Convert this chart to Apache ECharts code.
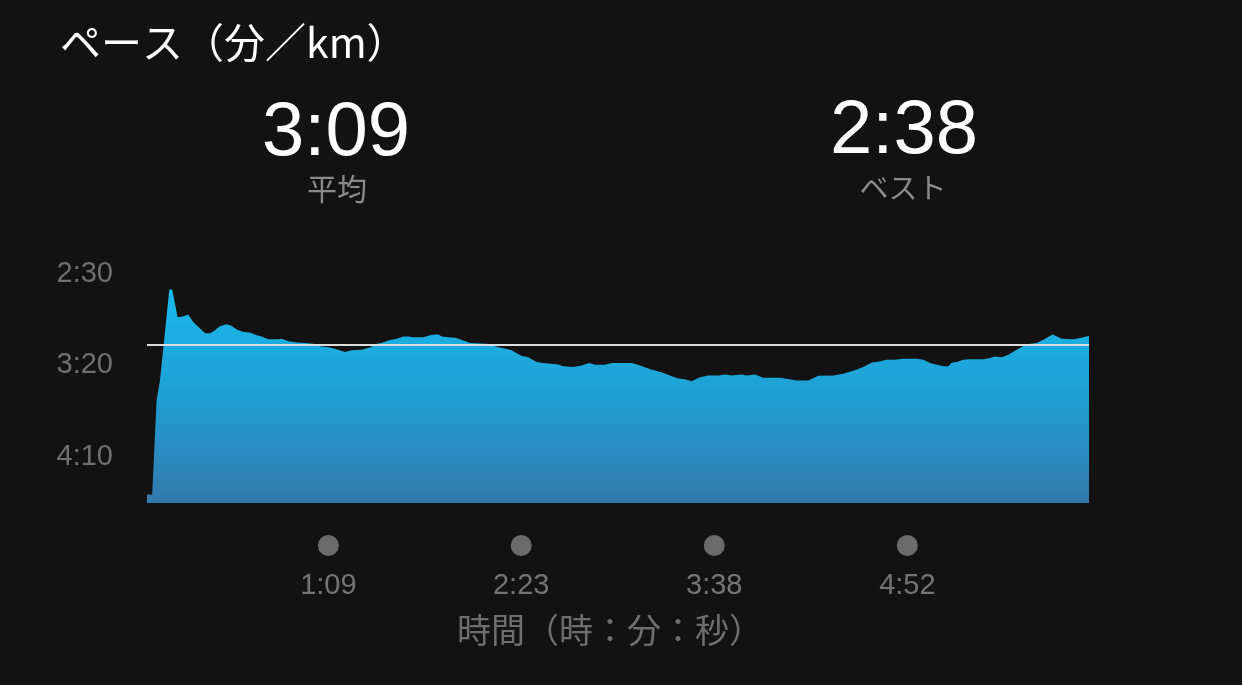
<!DOCTYPE html>
<html>
<head>
<meta charset="utf-8">
<script src="https://cdn.jsdelivr.net/npm/echarts@6/dist/echarts.min.js"></script>
<style>
html,body{margin:0;padding:0;background:#121212;}
#main{width:1242px;height:685px;}
</style>
</head>
<body>
<div id="main"></div>
<script>
// elapsed time (s)
const times = [0,2.0,3.7,5.0,8.6,9.7,11.8,13.8,15.9,17.8,22.4,24.3,25.8,28.1,30.7,32.3,34.6,37.1,40.0,42.3,44.2,46.7,50.6,51.9,54.5,57.7,60.9,64.1,66.7,70.5,73.7,76.3,78.9,82.7,85.9,88.5,90.4,93.0,96.2,98.8,100.7,102.6,106.5,109.1,111.0,112.3,113.6,116.1,118.7,120.6,124.5,130.9,134.1,140.5,144.4,146.9,150.2,152.7,158.5,160.4,164.3,167.5,170.4,172.6,176.5,179.1,186.8,190.0,194.5,198.3,201.5,204.7,207.3,209.9,213.1,216.3,220.2,222.7,225.3,229.2,231.1,234.3,237.5,243.9,246.5,250.4,254.8,258.7,264.5,268.3,272.8,276.0,279.3,281.8,285.0,288.2,291.4,296.6,299.2,301.7,304.3,306.9,308.8,310.1,312.0,314.6,317.1,322.3,324.9,326.8,329.4,331.9,335.1,339.0,342.8,345.4,349.0,352.5,357.0,359.5,363.0];
// pace (seconds per km)
const paces = [270.3,270.3,219.1,208.2,158.6,158.6,173.7,173.3,172.2,176.4,182.4,182.4,181.3,178.6,177.6,178.2,180.4,181.8,182.2,183.6,184.2,185.8,185.8,185.4,186.8,187.5,187.8,188.2,189.6,190.3,191.4,192.7,191.8,191.4,190.3,188.2,187.8,186.4,185.4,184.2,184.2,184.7,184.6,183.6,183.1,183.1,184.2,184.6,184.9,185.8,187.8,188.2,189.5,191.8,194.9,195.5,198.2,198.7,199.5,200.4,200.9,200.0,198.7,199.6,199.6,198.7,198.7,200.0,202.3,203.7,205.5,207.1,207.5,208.6,206.4,205.5,205.5,204.9,205.5,204.9,205.5,204.9,206.7,206.7,207.3,208.2,208.2,205.6,205.5,204.5,202.7,200.9,198.4,198.0,196.9,196.9,196.3,196.3,196.9,198.7,199.6,200.4,200.4,198.5,198.2,196.9,196.7,196.7,196.0,195.1,195.5,194.2,191.4,188.5,187.8,186.0,183.1,185.4,185.8,185.1,184.0];
const avgPace = 189;   // 3:09
const avgLabel = '3:09';
const bestLabel = '2:38';
const yTickValues = [150, 200, 250];
const xTickValues = [69.9, 144.2, 218.6, 293.0];
const xTickLabels = ['1:09', '2:23', '3:38', '4:52'];

const fmtPace = v => Math.floor(v / 60) + ':' + String(Math.round(v % 60)).padStart(2, '0');
const numFont = '"Liberation Sans", "Noto Sans CJK JP", sans-serif';
const jpFont = '"Noto Sans CJK JP", "Liberation Sans", sans-serif';

const chart = echarts.init(document.getElementById('main'), null, {renderer: 'canvas'});
chart.setOption({
  backgroundColor: '#121212',
  animation: false,
  grid: {left: 147, top: 237, width: 942, height: 266, containLabel: false},
  xAxis: {
    type: 'value', min: 0, max: 363,
    axisLine: {show: false}, axisTick: {show: false}, splitLine: {show: false},
    axisLabel: {
      customValues: xTickValues,
      margin: 32,
      formatter: v => {
        const i = xTickValues.indexOf(v);
        return '{dot|}\n{t|' + (i >= 0 ? xTickLabels[i] : '') + '}';
      },
      rich: {
        dot: {width: 21, height: 21, lineHeight: 21, borderRadius: 10.5, backgroundColor: '#6b6b6b'},
        t: {fontSize: 29, lineHeight: 59, color: '#747474', fontFamily: numFont}
      }
    }
  },
  yAxis: {
    type: 'value', inverse: true, min: 130, max: 275,
    axisLine: {show: false}, axisTick: {show: false}, splitLine: {show: false},
    axisLabel: {
      customValues: yTickValues,
      margin: 34,
      fontSize: 29, color: '#6f6f6f', fontFamily: numFont,
      formatter: v => fmtPace(v)
    }
  },
  series: [{
    type: 'line',
    data: times.map((t, i) => [t, paces[i]]),
    showSymbol: false,
    lineStyle: {width: 0},
    areaStyle: {
      origin: 'end',
      opacity: 1,
      color: new echarts.graphic.LinearGradient(0, 0, 0, 1, [
        {offset: 0, color: '#19b9ec'},
        {offset: 0.5, color: '#209fd3'},
        {offset: 1, color: '#3478ac'}
      ])
    },
    markLine: {
      silent: true,
      symbol: 'none',
      label: {show: false},
      lineStyle: {color: '#dcdcdc', width: 2, type: 'solid'},
      data: [{yAxis: avgPace}]
    }
  }],
  graphic: [
    {type: 'text', left: 60, top: 22, style: {text: 'ペース（分／km）', fontSize: 41, fill: '#ffffff', fontFamily: jpFont}},
    {type: 'text', x: 336, y: 134, style: {text: avgLabel, fontSize: 76, fill: '#ffffff', fontFamily: numFont, align: 'center', verticalAlign: 'middle'}},
    {type: 'text', x: 337, y: 189, style: {text: '平均', fontSize: 30, fill: '#8a8a8a', fontFamily: jpFont, align: 'center', verticalAlign: 'middle'}},
    {type: 'text', x: 904, y: 132, style: {text: bestLabel, fontSize: 76, fill: '#ffffff', fontFamily: numFont, align: 'center', verticalAlign: 'middle'}},
    {type: 'text', x: 903, y: 188, style: {text: 'ベスト', fontSize: 29, fill: '#8a8a8a', fontFamily: jpFont, align: 'center', verticalAlign: 'middle'}},
    {type: 'text', x: 610, y: 630, style: {text: '時間（時：分：秒）', fontSize: 34, fill: '#6e6e6e', fontFamily: jpFont, align: 'center', verticalAlign: 'middle'}}
  ]
});
</script>
</body>
</html>
